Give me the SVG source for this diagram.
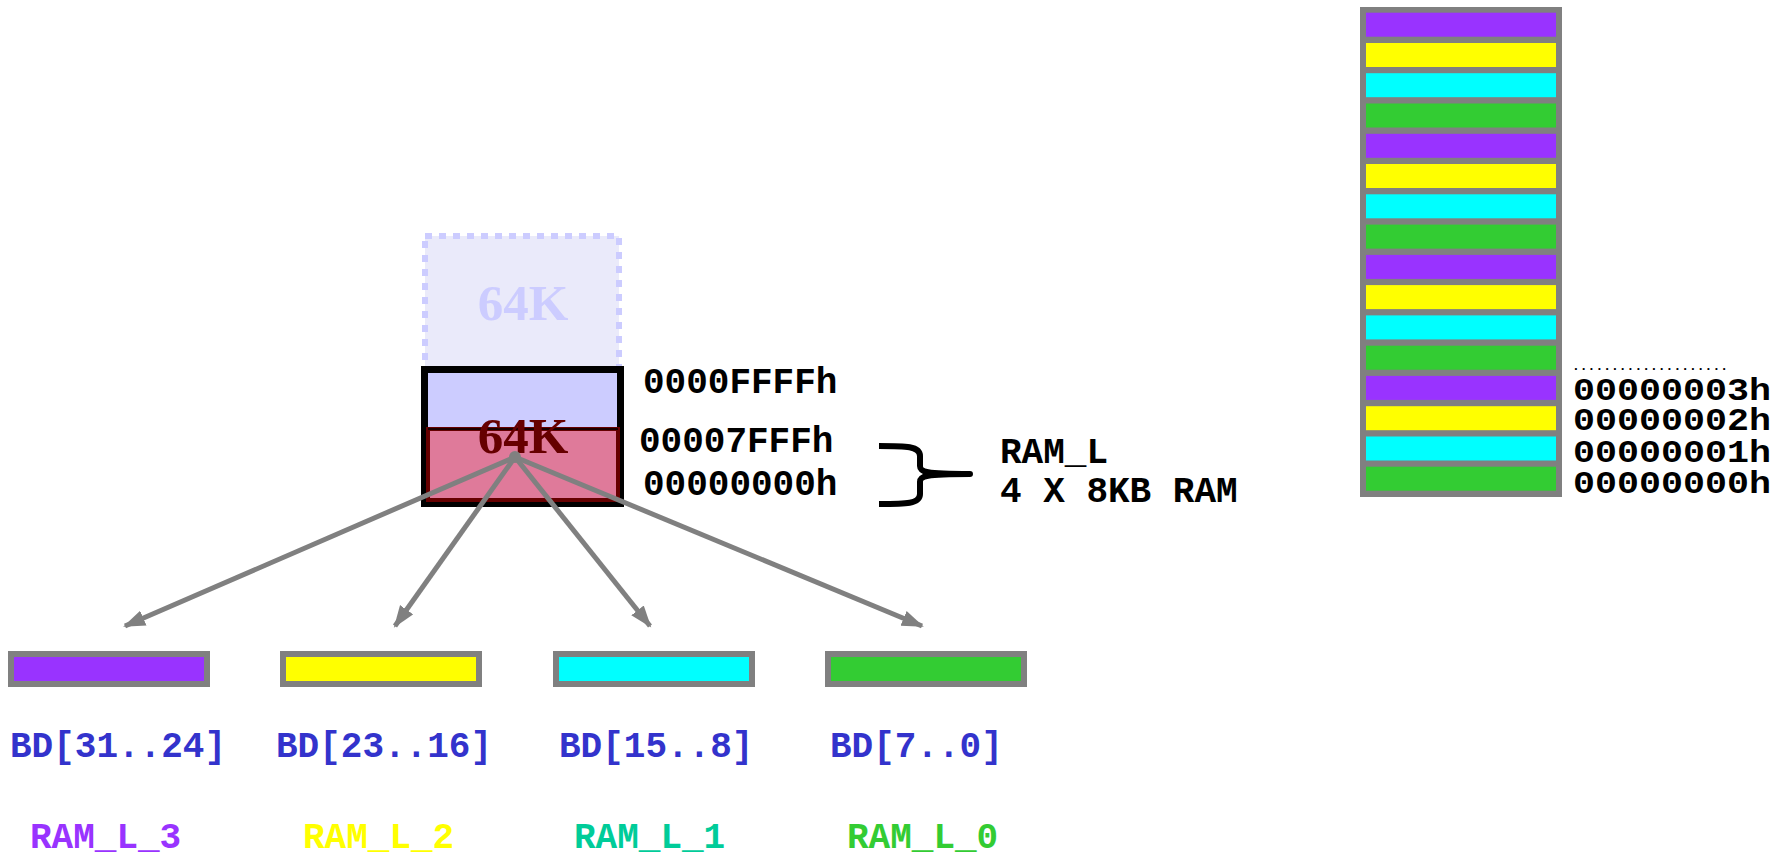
<svg xmlns="http://www.w3.org/2000/svg" width="1786" height="864" viewBox="0 0 1786 864">
<style>
.mono{font-family:"Liberation Mono","Courier New",monospace;font-weight:bold;font-size:36px}
.monor{font-family:"Liberation Mono","Courier New",monospace;font-weight:bold;font-size:32px}
.big{font-family:"Liberation Serif","Times New Roman",serif;font-weight:bold;font-size:51px;text-anchor:middle}
.bar{stroke:#808080;stroke-width:6}
.conn{stroke:#808080;stroke-width:5;fill:none}
</style>
<defs>
<marker id="ah" markerUnits="userSpaceOnUse" markerWidth="24" markerHeight="18" refX="20" refY="8" orient="auto" viewBox="0 0 24 16">
<path d="M0,0 L22,8 L0,16 Z" fill="#808080"/>
</marker>
</defs>
<rect width="1786" height="864" fill="#ffffff"/>

<g id="ghost64k">
<rect x="425" y="236" width="194" height="134" fill="#EAEAFA" stroke="#CCCCFF" stroke-width="6" stroke-dasharray="7 7"/>
<text class="big" x="523" y="320" fill="#CCCCFF">64K</text>
</g>

<g id="main64k">
<rect x="424.5" y="369.5" width="196" height="134" fill="#CCCCFF" stroke="#000000" stroke-width="7"/>
<rect x="428" y="429" width="190" height="71" fill="#DF7A9A" stroke="#660000" stroke-width="4"/>
<line x1="428" y1="429" x2="618" y2="429" stroke="#000000" stroke-width="1.5"/>
<text class="big" x="523" y="453" fill="#660000">64K</text>
</g>

<g id="addr-left">
<text class="mono" x="643" y="393" fill="#000">0000FFFFh</text>
<text class="mono" x="639" y="452" fill="#000">00007FFFh</text>
<text class="mono" x="643" y="495" fill="#000">00000000h</text>
</g>

<g id="brace">
<path d="M879,446 C906,446 920,446 920,456 L920,466 C920,472 925,474 970,474 C925,474 920,476 920,482 L920,494 C920,504 906,504 879,504" fill="none" stroke="#000" stroke-width="6" stroke-linejoin="round"/>
<text class="mono" x="1000" y="463" fill="#000">RAM_L</text>
<text class="mono" x="1000" y="502" fill="#000">4 X 8KB RAM</text>
</g>

<g id="stack">
<rect x="1360" y="7" width="202" height="490" fill="#808080"/>
<rect x="1366" y="12.7" width="190" height="24" fill="#9933FF"/>
<rect x="1366" y="43" width="190" height="24" fill="#FFFF00"/>
<rect x="1366" y="73.2" width="190" height="24" fill="#00FFFF"/>
<rect x="1366" y="103.5" width="190" height="24" fill="#33CC33"/>
<rect x="1366" y="133.8" width="190" height="24" fill="#9933FF"/>
<rect x="1366" y="164" width="190" height="24" fill="#FFFF00"/>
<rect x="1366" y="194.3" width="190" height="24" fill="#00FFFF"/>
<rect x="1366" y="224.6" width="190" height="24" fill="#33CC33"/>
<rect x="1366" y="254.9" width="190" height="24" fill="#9933FF"/>
<rect x="1366" y="285.1" width="190" height="24" fill="#FFFF00"/>
<rect x="1366" y="315.4" width="190" height="24" fill="#00FFFF"/>
<rect x="1366" y="345.7" width="190" height="24" fill="#33CC33"/>
<rect x="1366" y="375.9" width="190" height="24" fill="#9933FF"/>
<rect x="1366" y="406.2" width="190" height="24" fill="#FFFF00"/>
<rect x="1366" y="436.5" width="190" height="24" fill="#00FFFF"/>
<rect x="1366" y="466.7" width="190" height="24" fill="#33CC33"/>
</g>

<g id="addr-right">
<text x="1572" y="370" font-family="Liberation Mono, monospace" font-weight="bold" font-size="13" fill="#000">....................</text>
<text class="monor" x="1573" y="400" textLength="198" lengthAdjust="spacingAndGlyphs" fill="#000">00000003h</text>
<text class="monor" x="1573" y="430" textLength="198" lengthAdjust="spacingAndGlyphs" fill="#000">00000002h</text>
<text class="monor" x="1573" y="462" textLength="198" lengthAdjust="spacingAndGlyphs" fill="#000">00000001h</text>
<text class="monor" x="1573" y="493" textLength="198" lengthAdjust="spacingAndGlyphs" fill="#000">00000000h</text>
</g>

<g id="connectors">
<line class="conn" x1="515" y1="457" x2="125" y2="626" marker-end="url(#ah)"/>
<line class="conn" x1="515" y1="457" x2="395" y2="626" marker-end="url(#ah)"/>
<line class="conn" x1="515" y1="457" x2="650" y2="626" marker-end="url(#ah)"/>
<line class="conn" x1="515" y1="457" x2="922" y2="626" marker-end="url(#ah)"/>
<circle cx="515" cy="457" r="6" fill="#808080"/>
</g>

<g id="ram3">
<rect class="bar" x="11" y="654" width="196" height="30" fill="#9933FF"/>
<text class="mono" x="10" y="757" fill="#3333CC">BD[31..24]</text>
<text class="mono" x="30" y="848" fill="#9933FF">RAM_L_3</text>
</g>
<g id="ram2">
<rect class="bar" x="283" y="654" width="196" height="30" fill="#FFFF00"/>
<text class="mono" x="276" y="757" fill="#3333CC">BD[23..16]</text>
<text class="mono" x="303" y="848" fill="#FFFF00">RAM_L_2</text>
</g>
<g id="ram1">
<rect class="bar" x="556" y="654" width="196" height="30" fill="#00FFFF"/>
<text class="mono" x="559" y="757" fill="#3333CC">BD[15..8]</text>
<text class="mono" x="574" y="848" fill="#00CC99">RAM_L_1</text>
</g>
<g id="ram0">
<rect class="bar" x="828" y="654" width="196" height="30" fill="#33CC33"/>
<text class="mono" x="830" y="757" fill="#3333CC">BD[7..0]</text>
<text class="mono" x="847" y="848" fill="#33CC33">RAM_L_0</text>
</g>
</svg>
